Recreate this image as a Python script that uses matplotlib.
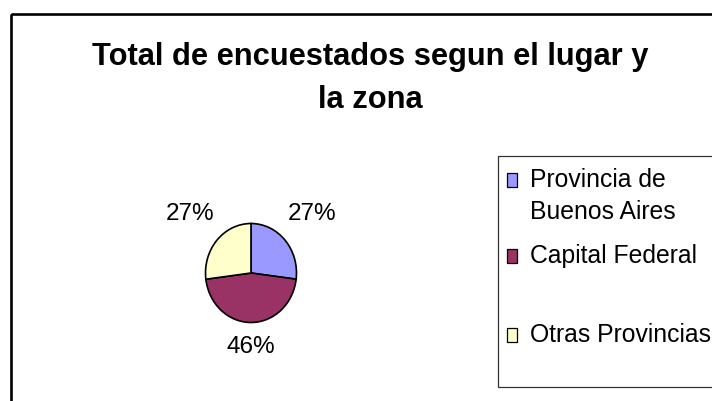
import numpy as np
import matplotlib
matplotlib.use("Agg")
import matplotlib.pyplot as plt
from matplotlib.patches import Rectangle

# data
categories = ["Provincia de\nBuenos Aires", "Capital Federal", "Otras Provincias"]
values = [27, 46, 27]
colors = ["#9999FF", "#993366", "#FFFFCC"]
title_lines = ["Total de encuestados segun el lugar y", "la zona"]

plt.rcParams["font.family"] = ["Liberation Sans", "DejaVu Sans"]

W, H = 712, 401
fig = plt.figure(figsize=(W / 100, H / 100), dpi=100)

# overlay axes in pixel coordinates (y down) for frame, title and legend
over = fig.add_axes([0, 0, 1, 1])
over.set_xlim(0, W)
over.set_ylim(H, 0)
over.axis("off")

# outer chart frame (continues past right and bottom edges)
over.add_patch(Rectangle((11, 14), 800, 500, fill=False, edgecolor="black", linewidth=1.9))

# title
for i, line in enumerate(title_lines):
    over.text(370, [65, 108][i], line, ha="center", va="baseline",
              fontsize=22.2, fontweight="bold", color="black")

# pie: slightly taller than wide, like the original
cx, cy, rx, ry = 251, 273, 45.5, 49.5
ax = fig.add_axes([(cx - rx) / W, (H - cy - ry) / H, 2 * rx / W, 2 * ry / H])
wedges, texts, autotexts = ax.pie(values, colors=colors, startangle=90, counterclock=False,
                                  wedgeprops=dict(edgecolor="black", linewidth=1.2),
                                  autopct="%1.0f%%", textprops=dict(fontsize=17.5, color="black"))
ax.set_aspect("auto")
ax.set_xlim(-1, 1)
ax.set_ylim(-1, 1)
for w, t in zip(wedges, autotexts):
    w.set_clip_on(False)
    th = np.deg2rad((w.theta1 + w.theta2) / 2)
    d = 1.5 + 0.4 * abs(np.cos(th))
    t.set_position((d * np.cos(th), d * np.sin(th)))
    t.set_ha("center")
    t.set_va("center")

# legend box
over.add_patch(Rectangle((497.5, 156), 300, 231, fill=False, edgecolor="#333333", linewidth=0.9))
baselines = [187, 263, 342]
for label, col, base in zip(categories, colors, baselines):
    over.add_patch(Rectangle((507, base - 14), 10, 13.5, facecolor=col,
                             edgecolor="black", linewidth=0.9))
    for j, part in enumerate(label.split("\n")):
        over.text(530, base + j * 32, part, ha="left", va="baseline", fontsize=17.8, color="black")

fig.savefig("out.png", dpi=100)
